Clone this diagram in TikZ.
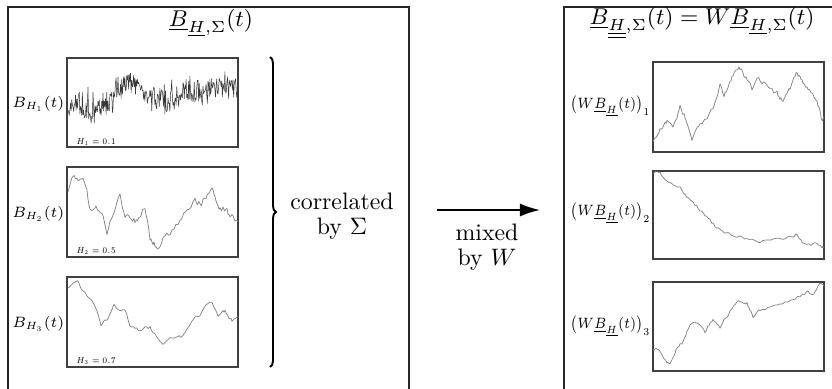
\RequirePackage{fix-cm}
\documentclass[tikz,border=0pt]{standalone}
\usepackage{amsmath}
\usepackage{graphicx}
\usetikzlibrary{decorations.pathreplacing,arrows.meta}
\tikzset{
 x=0.42pt, y=-0.42pt,
 bigbox/.style={draw=black!85, line width=0.85pt},
 pframe/.style={draw=black!75, line width=0.5pt},
 curve/.style={draw=black!50, line width=0.3pt, line join=round},
 noisy/.style={draw=black!78, line width=0.22pt, line join=round},
 title/.style={font=\fontsize{9.6}{12}\selectfont, inner sep=0pt},
 lbl/.style={font=\fontsize{6.3}{8}\selectfont, inner sep=0.5pt, anchor=east},
 hlbl/.style={font=\fontsize{3.6}{5}\selectfont, inner sep=0pt, anchor=base west},
 note/.style={font=\fontsize{10}{10.5}\selectfont, align=center, inner sep=0pt},
 arr/.style={-{Latex[length=8.5pt,width=5.5pt]}, line width=0.7pt},
 bracedec/.style={decorate, decoration={brace, amplitude=2.5pt}, line width=0.8pt},
}
\newcommand\fbmwalk[6]{%
 \draw[#1] (#2,#3) foreach \px/\py [remember=\px as \lx (initially #2), remember=\py as \ly (initially #3)] in {#6} { foreach \k in {1,...,#4} { -- ({\lx+(\px-\lx)*\k/#4},{\ly+(\py-\ly)*\k/#4+#5}) } };}
\begin{document}
\begin{tikzpicture}
\useasboundingbox (0,0) rectangle (832,388);
\clip (0,0) rectangle (832,388);
\pgfmathsetseed{7}
% outer boxes
\draw[bigbox] (8,7) rectangle (409,430);
\draw[bigbox] (564,7) rectangle (850,430);
\node[title] (tl) at (211,23) {$\underline{B}_{\underline{H},\Sigma}(t)$};
\node[title] (tr) at (702,23) {$\underline{B}_{\underline{\underline{H}},\Sigma}(t) = W\underline{B}_{\underline{H},\Sigma}(t)$};
% left plot frames
\draw[pframe] (67,58) rectangle (238,147);
\draw[pframe] (67,167) rectangle (238,257);
\draw[pframe] (67,277) rectangle (238,367);
% right plot frames
\draw[pframe] (653,62) rectangle (824,152);
\draw[pframe] (653,171) rectangle (824,259);
\draw[pframe] (653,282) rectangle (824,371);
% left curves
\begin{scope}
\clip (67,58) rectangle (238,147);
\fbmwalk{noisy}{68}{110}{16}{12*rand+16*rand*rand*rand}{78/105, 88/108, 98/106, 108/104, 118/88, 128/82, 138/88, 148/92, 158/100, 168/104, 178/96, 188/92, 198/90, 208/88, 218/86, 228/84, 238/90}
\end{scope}
\begin{scope}
\clip (67,167) rectangle (238,257);
\fbmwalk{curve}{68}{192}{4}{2.5*rand}{73/177, 78/180, 83/178, 86/185, 90/210, 96/208, 102/214, 107/232, 113/215, 120/194, 125/218, 130/216, 135/222, 140/215, 145/208, 150/238, 154/244, 158/250, 165/236, 172/232, 180/220, 187/210, 195/200, 200/205, 206/198, 212/188, 216/200, 220/210, 226/208, 230/216, 234/218, 238/224}
\end{scope}
\begin{scope}
\clip (67,277) rectangle (238,367);
\fbmwalk{curve}{68}{288}{3}{1.5*rand}{72/284, 77/280, 81/288, 85/292, 90/300, 95/305, 101/325, 105/320, 108/318, 114/305, 120/312, 125/309, 130/325, 135/328, 140/330, 145/327, 150/328, 155/334, 163/345, 170/338, 177/336, 183/336, 190/325, 195/318, 200/315, 206/306, 212/302, 218/315, 222/312, 225/310, 229/318, 232/320, 238/317}
\end{scope}
% right curves
\begin{scope}
\clip (653,62) rectangle (824,152);
\fbmwalk{curve}{653}{142}{3}{2*rand}{657/137, 660/130, 664/125, 667/120, 673/128, 677/118, 680/107, 684/115, 687/122, 692/142, 696/130, 700/125, 707/117, 713/108, 720/85, 724/95, 727/92, 730/82, 733/75, 737/70, 740/68, 744/76, 747/78, 752/88, 757/77, 762/82, 767/85, 772/90, 777/93, 780/98, 783/102, 787/95, 790/88, 794/78, 797/73, 800/78, 803/83, 807/88, 810/90, 814/96, 817/102, 820/112, 822/122, 824/117}
\end{scope}
\begin{scope}
\clip (653,171) rectangle (824,259);
\fbmwalk{curve}{653}{173}{3}{1.2*rand}{657/171, 660/173, 664/178, 667/182, 673/185, 680/188, 685/195, 690/200, 695/205, 700/210, 705/215, 710/220, 715/226, 720/230, 727/233, 733/236, 740/237, 747/239, 753/240, 760/242, 768/240, 777/239, 785/238, 793/237, 797/234, 801/240, 805/245, 811/245, 817/243, 822/248, 824/246}
\end{scope}
\begin{scope}
\clip (653,282) rectangle (824,371);
\fbmwalk{curve}{653}{350}{3}{1.2*rand}{657/348, 662/355, 667/363, 670/365, 674/355, 677/348, 680/345, 683/342, 687/332, 690/325, 694/322, 697/323, 701/327, 705/332, 709/325, 713/320, 717/325, 720/327, 724/320, 727/317, 732/308, 737/301, 742/303, 747/303, 750/310, 753/317, 757/312, 760/310, 768/308, 777/305, 785/303, 793/300, 800/296, 807/292, 811/294, 815/293, 818/287, 820/283, 824/285}
\end{scope}
% labels
\node[lbl] (l1) at (66,104) {\scalebox{0.95}[1]{$B_{H_1}(t)$}};
\node[lbl] (l2) at (66,214) {\scalebox{0.95}[1]{$B_{H_2}(t)$}};
\node[lbl] (l3) at (66,324) {\scalebox{0.95}[1]{$B_{H_3}(t)$}};
\node[hlbl] (h1) at (76,144) {\scalebox{0.85}[1]{$H_1=0.1$}};
\node[hlbl] (h2) at (76,253) {\scalebox{0.85}[1]{$H_2=0.5$}};
\node[hlbl] (h3) at (76,363) {\scalebox{0.85}[1]{$H_3=0.7$}};
\node[lbl] (r1) at (652,106) {\scalebox{0.85}[1]{$\bigl(W\underline{B}_{\underline{H}}(t)\bigr)_1$}};
\node[lbl] (r2) at (652,213) {\scalebox{0.85}[1]{$\bigl(W\underline{B}_{\underline{H}}(t)\bigr)_2$}};
\node[lbl] (r3) at (652,326) {\scalebox{0.85}[1]{$\bigl(W\underline{B}_{\underline{H}}(t)\bigr)_3$}};
% brace and notes
\coordinate (bt) at (270,57);
\coordinate (bb) at (270,367);
\draw[bracedec] (bt) -- (bb);
\node[note] (cr) at (342,216) {correlated\\by $\Sigma$};
\coordinate (as) at (437,210);
\coordinate (ae) at (540,210);
\draw[arr] (as) -- (ae);
\node[note] (mx) at (487,247) {mixed\\by $W$};
\end{tikzpicture}
\end{document}
